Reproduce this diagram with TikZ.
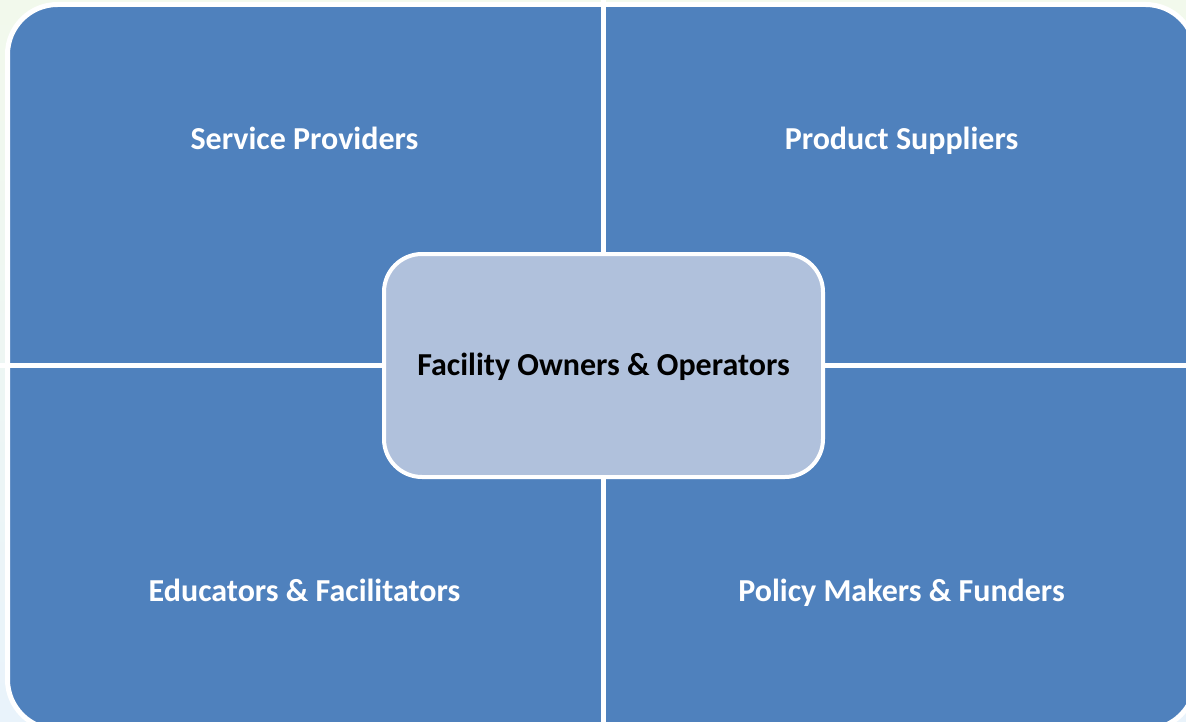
\documentclass[tikz,border=0pt]{standalone}
\usepackage{fontspec}
\setmainfont{Carlito}
\definecolor{quadblue}{HTML}{4F81BD}
\definecolor{centerfill}{HTML}{B0C1DC}
\definecolor{bgtop}{HTML}{F2F9EC}
\definecolor{bgbottom}{HTML}{E9F3FB}
\tikzset{
  labelfont/.style={font=\fontsize{32}{38}\selectfont\bfseries, text height=20.6pt, text depth=0pt},
  quadlabel/.style={labelfont, text=white, anchor=center, inner sep=0pt},
  centerbox/.style={labelfont, draw=white, line width=4pt, fill=centerfill, rounded corners=38pt,
    minimum width=439pt, minimum height=223pt, inner sep=0pt, text=black},
  divider/.style={draw=white, line width=5pt}
}
\begin{document}
\begin{tikzpicture}[x=1pt, y=-1pt]
\useasboundingbox (0,0) rectangle (1186,722);
\clip (0,0) rectangle (1186,722);
\shade[top color=bgtop, bottom color=bgbottom] (0,0) rectangle (1186,722);
\draw[white, line width=5pt, fill=quadblue, rounded corners=50pt] (7.5,4.5) rectangle (1195.5,729.5);
\coordinate (vtop) at (603.5,0);
\coordinate (vbot) at (603.5,722);
\coordinate (hleft) at (0,365);
\coordinate (hright) at (1186,365);
\draw[divider] (vtop) -- (vbot);
\draw[divider] (hleft) -- (hright);
\node[quadlabel] (sp) at (304.5,139) {Service Providers};
\node[quadlabel] (ps) at (901.5,139) {Product Suppliers};
\node[quadlabel] (ef) at (304.5,591) {Educators \& Facilitators};
\node[quadlabel] (pm) at (901.5,591) {Policy Makers \& Funders};
\node[centerbox] (fo) at (603.5,365.5) {Facility Owners \& Operators};
\end{tikzpicture}
\end{document}
